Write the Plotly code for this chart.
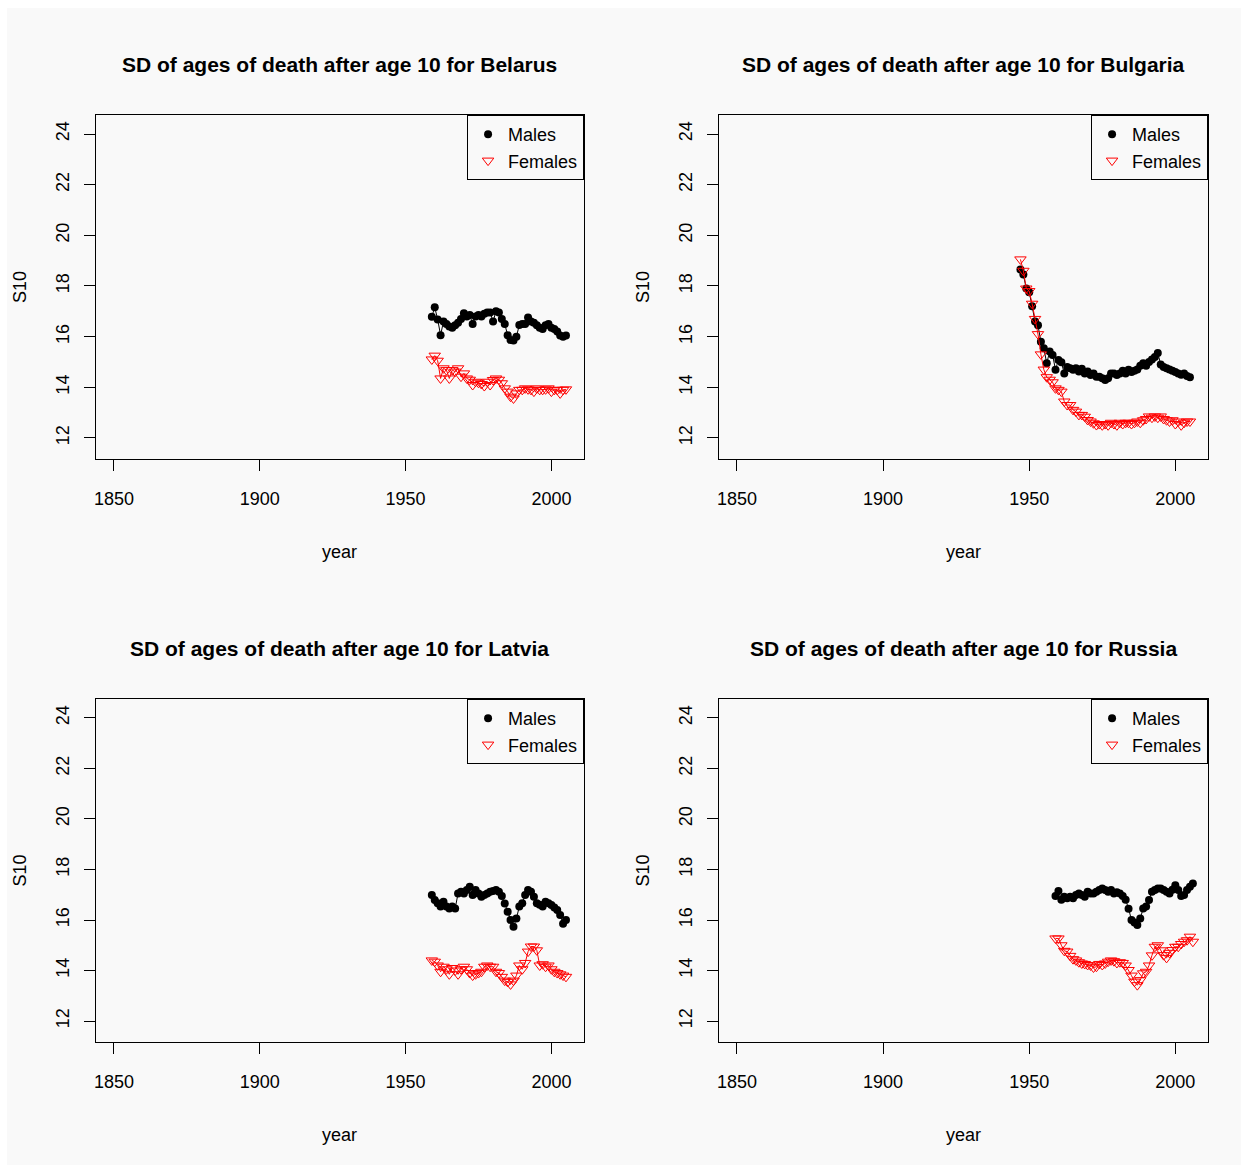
import plotly.graph_objects as go

# ---------------- data ----------------
countries = ["Belarus", "Bulgaria", "Latvia", "Russia"]

years_belarus = list(range(1959, 2006))
males_belarus = [16.79, 17.16, 16.68, 16.06, 16.6, 16.5, 16.4, 16.35, 16.45, 16.55,
                 16.7, 16.92, 16.8, 16.85, 16.5, 16.8, 16.85, 16.8, 16.9, 16.95,
                 16.95, 16.6, 17.0, 16.95, 16.7, 16.5, 16.06, 15.87, 15.85, 16.0,
                 16.46, 16.5, 16.5, 16.76, 16.6, 16.55, 16.45, 16.35, 16.3, 16.45,
                 16.5, 16.35, 16.3, 16.2, 16.05, 16.0, 16.05]
females_belarus = [15.1, 15.25, 15.05, 14.35, 14.75, 14.68, 14.35, 14.68, 14.62, 14.75,
                   14.42, 14.55, 14.35, 14.3, 14.09, 14.22, 14.18, 14.13, 14.05, 14.22,
                   14.09, 14.29, 14.35, 14.3, 14.16, 13.96, 13.83, 13.63, 13.56, 13.76,
                   13.9, 13.9, 13.96, 13.92, 13.9, 13.83, 13.96, 13.9, 13.9, 13.92,
                   13.96, 13.83, 13.9, 13.9, 13.76, 13.9, 13.92]

years_bulgaria = list(range(1947, 2006))
males_bulgaria = [18.65, 18.45, 17.9, 17.75, 17.2, 16.6, 16.45, 15.8, 15.54, 14.95,
                  15.41, 15.28, 14.69, 15.08, 14.99, 14.55, 14.8, 14.75, 14.69, 14.75,
                  14.62, 14.73, 14.55, 14.62, 14.49, 14.55, 14.42, 14.42, 14.36, 14.29,
                  14.36, 14.55, 14.55, 14.49, 14.55, 14.65, 14.55, 14.69,
                  14.6, 14.65, 14.7, 14.85, 14.95, 14.85, 15.0, 15.1, 15.2, 15.35,
                  14.9, 14.8, 14.75, 14.7, 14.65, 14.6, 14.55, 14.5, 14.55, 14.45, 14.4]
females_bulgaria = [19.05, 18.6, 17.9, 17.8, 17.3, 16.7, 16.1, 15.3, 14.7, 14.4,
                    14.3, 14.2, 13.96, 13.9, 13.83, 13.44, 13.3, 13.3, 13.11, 13.04,
                    12.91, 12.91, 12.84, 12.71, 12.65, 12.58, 12.51, 12.55, 12.5,
                    12.55, 12.5, 12.6, 12.55, 12.5, 12.6, 12.55, 12.6, 12.6, 12.55,
                    12.6, 12.65, 12.6, 12.7, 12.75, 12.85, 12.8, 12.85, 12.8, 12.85,
                    12.75, 12.7, 12.65, 12.7, 12.55, 12.65, 12.5, 12.6, 12.65, 12.65]

years_latvia = list(range(1959, 2006))
males_latvia = [16.99, 16.79, 16.66, 16.53, 16.72, 16.53, 16.46, 16.53, 16.46, 17.05,
                17.12, 17.05, 17.19, 17.32, 16.99, 17.19, 17.05, 16.92, 16.99, 17.05,
                17.12, 17.15, 17.19, 17.12, 16.95, 16.65, 16.33, 16.0, 15.73, 16.06,
                16.53, 16.66, 16.99, 17.19, 17.12, 16.92, 16.66, 16.6, 16.53, 16.72,
                16.66, 16.59, 16.5, 16.4, 16.2, 15.85, 16.0]
females_latvia = [14.4, 14.35, 14.2, 13.95, 14.15, 14.05, 13.85, 14.1, 14.0, 13.85,
                  14.05, 14.15, 14.05, 13.9, 13.8, 13.85, 13.9, 13.95, 14.15, 14.2,
                  14.15, 14.15, 13.95, 13.9, 13.75, 13.6, 13.55, 13.45, 13.6, 13.8,
                  14.2, 14.05, 14.3, 14.75, 14.95, 14.95, 14.8, 14.2, 14.25, 14.15,
                  14.2, 14.05, 13.95, 13.9, 13.85, 13.8, 13.75]

years_russia = list(range(1959, 2007))
males_russia = [16.95, 17.15, 16.8, 16.92, 16.86, 16.92, 16.86, 16.99, 17.05, 16.99,
                16.92, 17.12, 17.05, 17.05, 17.12, 17.19, 17.25, 17.19, 17.12, 17.19,
                17.05, 17.1, 17.05, 16.95, 16.8, 16.45, 16.0, 15.9, 15.8, 16.06,
                16.46, 16.53, 16.79, 17.12, 17.19, 17.25, 17.25, 17.19, 17.12, 17.05,
                17.2, 17.38, 17.19, 16.95, 16.99, 17.19, 17.32, 17.45]
females_russia = [15.27, 15.27, 15.0, 14.78, 14.75, 14.58, 14.45, 14.4, 14.33, 14.28,
                  14.26, 14.22, 14.2, 14.12, 14.15, 14.26, 14.22, 14.28, 14.35, 14.4,
                  14.37, 14.3, 14.33, 14.3, 14.2, 14.02, 13.8, 13.56, 13.42, 13.62,
                  13.89, 13.95, 14.2, 14.6, 14.94, 15.0, 14.8, 14.61, 14.5, 14.7,
                  14.81, 14.94, 14.94, 15.05, 15.14, 15.2, 15.34, 15.14]

series = {
    "Belarus": (years_belarus, males_belarus, females_belarus),
    "Bulgaria": (years_bulgaria, males_bulgaria, females_bulgaria),
    "Latvia": (years_latvia, males_latvia, females_latvia),
    "Russia": (years_russia, males_russia, females_russia),
}

x_ticks = [1850, 1900, 1950, 2000]
y_ticks = [12, 14, 16, 18, 20, 22, 24]
x_range = [1843.8, 2011.2]
y_range = [11.17, 24.75]

# ---------------- layout ----------------
W, H = 1246, 1170
BG = "#f9f9f9"
FONT = "Liberation Sans, Arial, Helvetica, sans-serif"

# plot areas in pixels (left, right, top, bottom)
boxes = [(94, 583, 115, 459), (718, 1208, 115, 459),
         (94, 583, 699, 1042), (718, 1208, 699, 1042)]

fig = go.Figure()
layout = dict(
    width=W, height=H,
    margin=dict(l=0, r=0, t=0, b=0),
    paper_bgcolor="white",
    plot_bgcolor=BG,
    showlegend=True,
    font=dict(family=FONT, size=18, color="black"),
    annotations=[],
    shapes=[dict(type="rect", xref="paper", yref="paper",
                 x0=5 / W, x1=1241 / W, y0=1 - 1165 / H, y1=1 - 8 / H,
                 fillcolor=BG, line=dict(width=0), layer="below")],
)

for i, c in enumerate(countries):
    l, r, t, b = boxes[i]
    n = "" if i == 0 else str(i + 1)
    xa, ya = "x" + n, "y" + n
    lg = "legend" + n
    yrs, m, f = series[c]

    # connecting lines (no legend)
    fig.add_trace(go.Scatter(x=yrs, y=m, mode="lines", xaxis=xa, yaxis=ya,
                             line=dict(color="black", width=1), showlegend=False,
                             hoverinfo="skip"))
    fig.add_trace(go.Scatter(x=yrs, y=m, mode="markers", name="Males", xaxis=xa, yaxis=ya,
                             marker=dict(symbol="circle", size=8, color="black"),
                             legend=lg))
    fig.add_trace(go.Scatter(x=yrs, y=f, mode="lines", xaxis=xa, yaxis=ya,
                             line=dict(color="#ff0000", width=1), showlegend=False,
                             hoverinfo="skip"))
    fig.add_trace(go.Scatter(x=yrs, y=f, mode="markers", name="Females", xaxis=xa, yaxis=ya,
                             marker=dict(symbol="triangle-down-open", size=10, color="#ff0000",
                                         line=dict(width=1, color="#ff0000")),
                             legend=lg))

    axcommon = dict(showline=True, mirror=True, linecolor="black", linewidth=1,
                    ticks="outside", ticklen=11, tickcolor="black", tickwidth=1,
                    showgrid=False, zeroline=False,
                    tickfont=dict(family=FONT, size=18, color="black"))
    layout["xaxis" + n] = dict(axcommon, domain=[l / W, r / W], range=x_range,
                               tickvals=x_ticks, anchor=ya, ticklabelstandoff=12)
    layout["yaxis" + n] = dict(axcommon, domain=[1 - b / H, 1 - t / H], range=y_range,
                               tickvals=y_ticks, anchor=xa, tickangle=-90,
                               ticklabelstandoff=8)
    layout[lg] = dict(x=r / W, y=1 - t / H, xanchor="right", yanchor="top",
                      xref="paper", yref="paper",
                      bordercolor="black", borderwidth=1, bgcolor=BG,
                      font=dict(family=FONT, size=18, color="black"),
                      itemwidth=30, tracegroupgap=0)

    cx = (l + r) / 2 / W
    layout["annotations"].append(dict(
        text="<b>SD of ages of death after age 10 for " + c + "</b>",
        x=cx, y=1 - (t - 51) / H, xref="paper", yref="paper",
        xanchor="center", yanchor="middle", showarrow=False,
        font=dict(family=FONT, size=21, color="black")))
    layout["annotations"].append(dict(
        text="year", x=cx, y=1 - (b + 93) / H, xref="paper", yref="paper",
        xanchor="center", yanchor="middle", showarrow=False,
        font=dict(family=FONT, size=18, color="black")))
    layout["annotations"].append(dict(
        text="S10", x=(l - 76) / W, y=1 - (t + b) / 2 / H, xref="paper", yref="paper",
        xanchor="center", yanchor="middle", showarrow=False, textangle=-90,
        font=dict(family=FONT, size=18, color="black")))

fig.update_layout(**layout)
fig.write_html("out.html")
